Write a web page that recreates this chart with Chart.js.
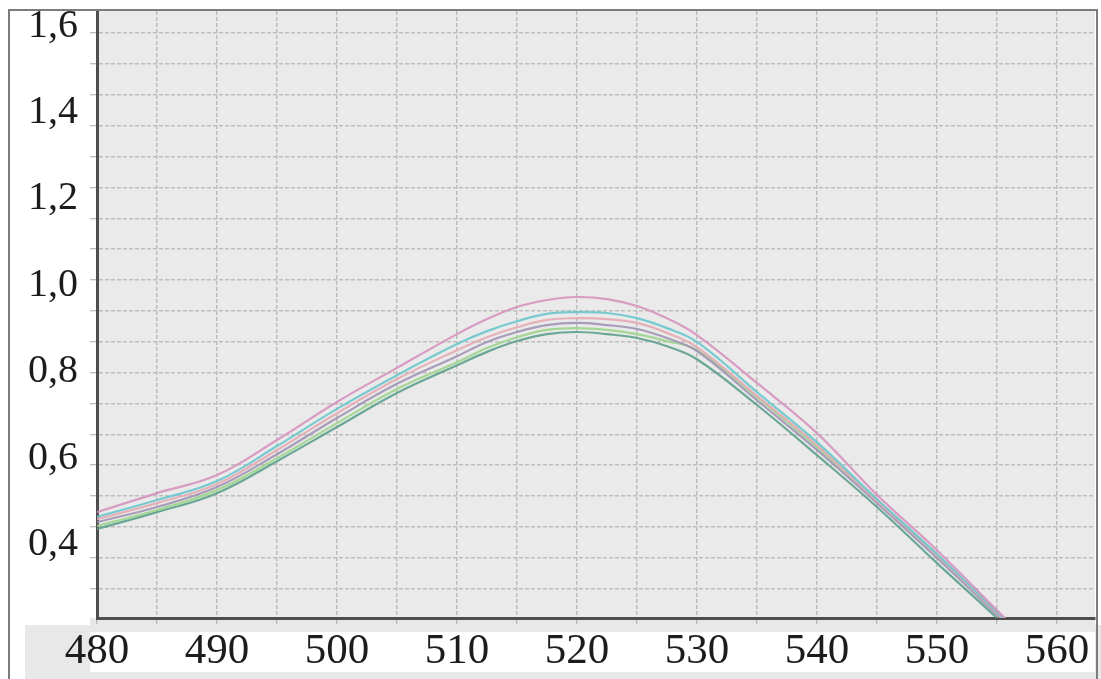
<!DOCTYPE html>
<html><head><meta charset="utf-8">
<script src="https://cdn.jsdelivr.net/npm/chart.js@4.4.1/dist/chart.umd.min.js"></script>
<style>html,body{margin:0;padding:0;background:#fff;}#wrap{width:1101px;height:679px;position:relative;}</style>
</head><body><div id="wrap"><canvas id="c" width="1101" height="679"></canvas></div>
<script>
// ---- data ----
const wavelengths  = [480,485,490,495,500,505,510,512.5,515,517.5,520,522.5,525,527.5,530,535,540,545,550,555,557.5];
const seriesPink   = [0.491,0.535,0.577,0.658,0.746,0.825,0.903,0.938,0.966,0.982,0.989,0.984,0.968,0.940,0.901,0.790,0.674,0.531,0.403,0.264,0.195];
const seriesCyan   = [0.480,0.519,0.563,0.644,0.730,0.808,0.880,0.910,0.933,0.950,0.954,0.952,0.940,0.917,0.885,0.769,0.653,0.521,0.394,0.260,0.192];
const seriesSalmon = [0.475,0.512,0.556,0.635,0.720,0.799,0.866,0.896,0.919,0.936,0.940,0.938,0.929,0.906,0.873,0.760,0.646,0.517,0.392,0.257,0.190];
const seriesViolet = [0.468,0.503,0.549,0.625,0.709,0.788,0.852,0.885,0.908,0.924,0.929,0.924,0.915,0.894,0.864,0.750,0.635,0.512,0.385,0.253,0.186];
const seriesLime   = [0.459,0.496,0.542,0.616,0.697,0.776,0.838,0.871,0.896,0.913,0.917,0.913,0.903,0.887,0.866,0.757,0.642,0.519,0.392,0.257,0.190];
const seriesTeal   = [0.452,0.491,0.535,0.609,0.688,0.767,0.831,0.862,0.887,0.903,0.908,0.903,0.894,0.875,0.845,0.739,0.623,0.503,0.373,0.246,0.180];

const xGridValues  = [480,485,490,495,500,505,510,515,520,525,530,535,540,545,550,555,560];
const xLabelValues = [480,490,500,510,520,530,540,550,560];
const xLabelText   = ['480','490','500','510','520','530','540','550','560'];
const yGridValues  = [0.314,0.386,0.457,0.529,0.600,0.671,0.743,0.814,0.886,0.957,1.029,1.100,1.171,1.243,1.314,1.386,1.457,1.529,1.600];
const yLabelValues = [0.4,0.6,0.8,1.0,1.2,1.4,1.6];
const yLabelText   = ['0,4','0,6','0,8','1,0','1,2','1,4','1,6'];
const yMin = 0.246, yMax = 1.651, xMin = 480, xMax = 563.17;

// ---- helpers ----
const near = (a,b)=>Math.abs(a-b)<1e-3;
const inList = (v,list)=>list.some(x=>near(x,v));
function mergeTicks(a,b){
  const out=[...a];
  b.forEach(v=>{ if(!inList(v,out)) out.push(v); });
  return out.sort((p,q)=>p-q);
}
const GRID='#bdbdbd', TICK='#a8a8a8', NONE='rgba(0,0,0,0)';

const bgPlugin = {
  id:'bg',
  beforeDraw(chart){
    const {ctx, chartArea:a, width, height} = chart;
    ctx.save();
    ctx.fillStyle='#ffffff'; ctx.fillRect(0,0,width,height);
    ctx.fillStyle='#e8e8e8';
    ctx.fillRect(a.left-72, a.bottom+7, width-(a.left-72), height-(a.bottom+7));
    ctx.fillRect(a.left-7, a.bottom, a.right-(a.left-7), 14);
    ctx.fillStyle='#ffffff';
    ctx.fillRect(a.left-7, a.bottom+14, a.right-(a.left-7), 40);
    ctx.fillStyle='#eaeaea';
    ctx.fillRect(a.left, a.top, a.right-a.left, a.bottom-a.top);
    ctx.restore();
  },
  afterDraw(chart){
    const {ctx, width, height} = chart;
    ctx.save();
    ctx.strokeStyle='#7c7c7c'; ctx.lineWidth=2;
    ctx.strokeRect(9, 10, width-13, height+5);
    ctx.restore();
  }
};

function ds(label,data,color){
  return {label, data: wavelengths.map((w,i)=>({x:w,y:data[i]})), borderColor:color,
    borderWidth:2.2, pointRadius:0, tension:0.4, fill:false};
}

new Chart(document.getElementById('c'), {
  type:'line',
  data:{ datasets:[
    ds('A',seriesPink,'rgba(214,146,190,0.9)'),
    ds('B',seriesCyan,'rgba(108,198,206,0.9)'),
    ds('C',seriesSalmon,'rgba(228,170,178,0.9)'),
    ds('D',seriesViolet,'rgba(160,148,180,0.9)'),
    ds('E',seriesLime,'rgba(156,212,140,0.9)'),
    ds('F',seriesTeal,'rgba(92,160,140,0.9)')
  ]},
  options:{
    responsive:false, animation:false, devicePixelRatio:1,
    layout:{padding:{left:0,top:11,right:6,bottom:0}},
    plugins:{legend:{display:false}, tooltip:{enabled:false}},
    scales:{
      x:{
        type:'linear', min:xMin, max:xMax,
        afterBuildTicks:(s)=>{ s.ticks = mergeTicks(xGridValues,xLabelValues).map(v=>({value:v})); },
        afterFit:(s)=>{ s.height = 61; s.paddingLeft=0; s.paddingRight=0; s.paddingTop=0; s.paddingBottom=0; },
        border:{display:true,color:'#4e4e4e',width:3,dash:[4,2]},
        grid:{color:GRID,lineWidth:1.5,drawTicks:true,tickLength:6,tickColor:TICK,tickWidth:1,tickBorderDash:[]},
        ticks:{autoSkip:false,maxRotation:0,minRotation:0,padding:2,color:'#1c1c1c',
          font:{family:'"Liberation Serif", "DejaVu Serif", serif',size:43},
          callback:(v)=>{ const i=xLabelValues.findIndex(x=>near(x,v)); return i>=0?xLabelText[i]:''; }}
      },
      y:{
        type:'linear', min:yMin, max:yMax,
        afterBuildTicks:(s)=>{ s.ticks = mergeTicks(yGridValues,yLabelValues).map(v=>({value:v})); },
        afterFit:(s)=>{ s.width = 97; s.paddingTop=0; s.paddingBottom=0; s.paddingLeft=0; s.paddingRight=0; },
        border:{display:true,color:'#4e4e4e',width:3,dash:[4,2]},
        grid:{
          color:(c)=> (c.tick && inList(c.tick.value,yGridValues)) ? GRID : NONE,
          tickColor:(c)=> (c.tick && inList(c.tick.value,yGridValues)) ? TICK : NONE,
          lineWidth:1.5,drawTicks:true,tickLength:7,tickWidth:1,tickBorderDash:[]},
        ticks:{autoSkip:false,padding:12,labelOffset:-7,color:'#1c1c1c',
          font:{family:'"Liberation Serif", "DejaVu Serif", serif',size:40},
          callback:(v)=>{ const i=yLabelValues.findIndex(x=>near(x,v)); return i>=0?yLabelText[i]:''; }}
      }
    }
  },
  plugins:[bgPlugin]
});
</script></body></html>
